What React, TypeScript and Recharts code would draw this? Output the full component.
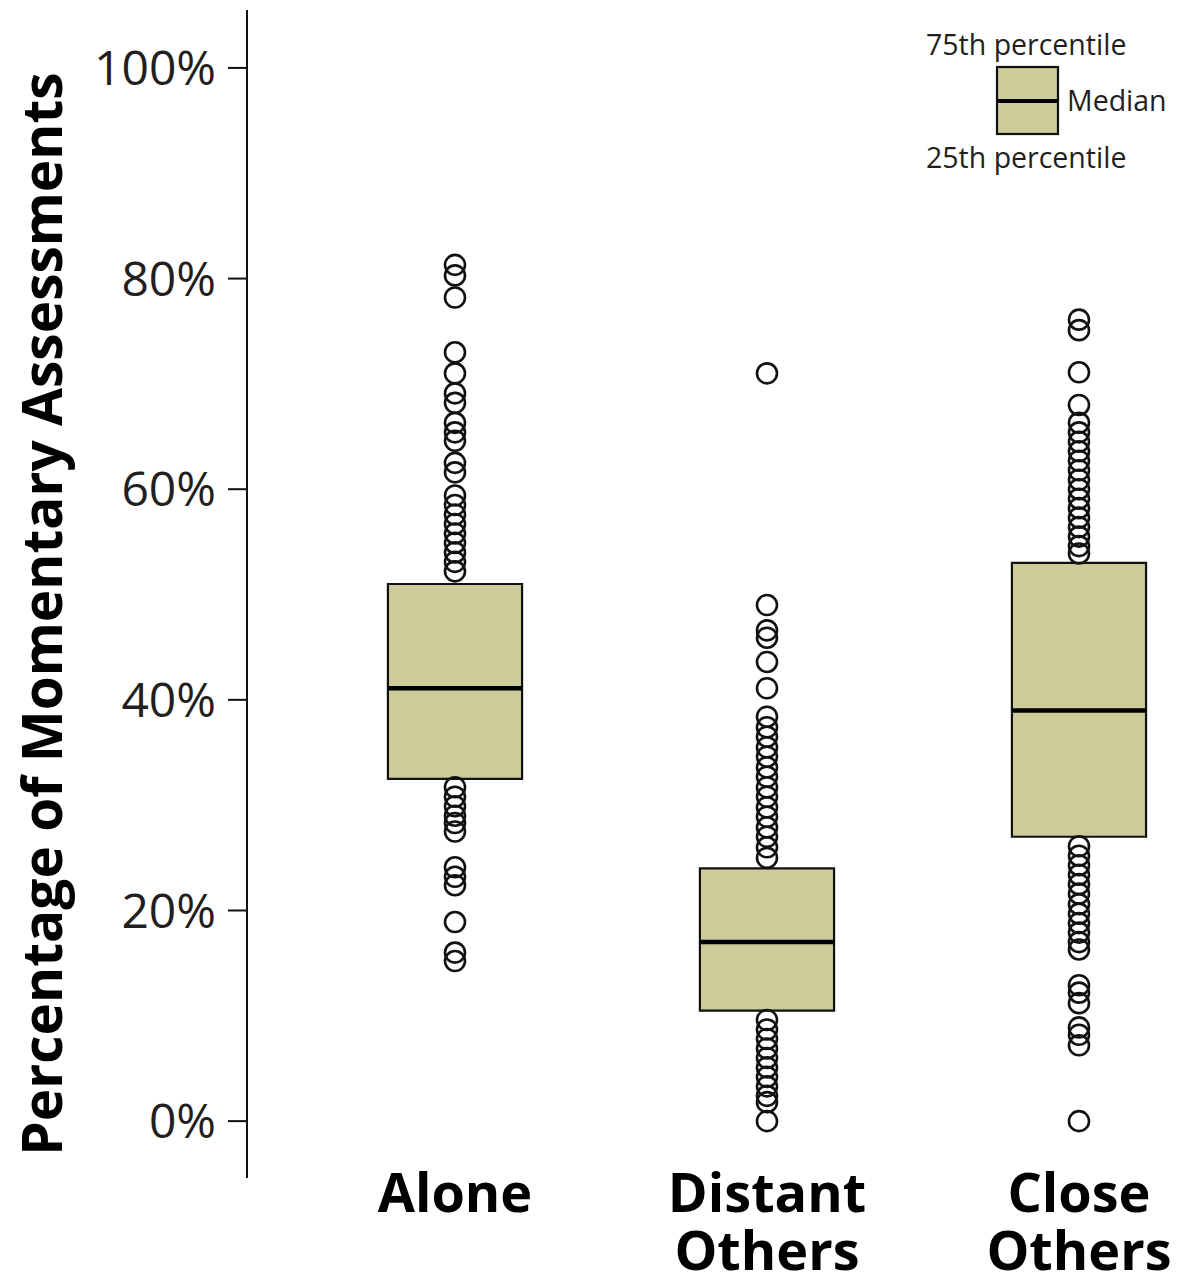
import React from "react";
import {
  ComposedChart,
  Scatter,
  XAxis,
  YAxis,
  ReferenceArea,
  ReferenceLine,
  Legend,
  Label,
} from "recharts";

// categories and box statistics (percent)
const categories = ["Alone", "Distant Others", "Close Others"];
const q1 = [32.5, 10.5, 27.0];
const medians = [41.1, 17.0, 39.0];
const q3 = [51.0, 24.0, 53.0];

// outliers
const aloneOutliers = [
  81.3, 80.3, 78.2, 73.0, 71.0, 69.1, 68.2, 66.3, 65.4, 64.6, 62.5, 61.6,
  59.4, 58.5, 57.6, 56.7, 55.8, 54.9, 54.0, 53.1, 52.2, 31.7, 30.8, 29.9,
  29.0, 28.3, 27.5, 24.1, 23.2, 22.4, 18.9, 16.0, 15.2,
];
const distantOutliers = [
  71.0, 49.0, 46.6, 45.9, 43.6, 41.1, 38.4, 37.4, 36.5, 35.5, 34.6, 33.6,
  32.7, 31.7, 30.8, 29.8, 28.9, 27.9, 27.0, 26.0, 25.0, 9.6, 8.7, 7.8, 6.9,
  6.0, 5.1, 4.2, 3.3, 2.4, 1.8, 0,
];
const closeOutliers = [
  76.1, 75.1, 71.1, 68.0, 66.3, 65.4, 64.5, 63.6, 62.7, 61.8, 60.9, 60.0,
  59.1, 58.2, 57.3, 56.4, 55.5, 54.6, 53.9, 26.1, 25.2, 24.3, 23.4, 22.5,
  21.6, 20.6, 19.7, 18.8, 17.9, 17.0, 16.3, 12.9, 12.2, 11.2, 8.9, 8.2, 7.2,
  0,
];
const yTicks = [0, 20, 40, 60, 80, 100];

const outlierSets = [aloneOutliers, distantOutliers, closeOutliers];
const HALF = 0.215;
const FONT = "'Open Sans', 'Noto Sans', sans-serif";
const BOX_FILL = "#cccb99";

const OpenCircle = (props: any) => (
  <circle
    cx={props.cx}
    cy={props.cy}
    r={10}
    fill="none"
    stroke="#111"
    strokeWidth={2.6}
  />
);

const CategoryTick = (props: any) => {
  const { x, y, payload } = props;
  const words = categories[payload.value].split(" ");
  return (
    <text
      x={x}
      y={y}
      textAnchor="middle"
      fontFamily={FONT}
      fontWeight={700}
      fontSize={54}
      fill="#000"
    >
      {words.map((w, i) => (
        <tspan key={w} x={x} y={y + 32 + i * 58}>
          {w}
        </tspan>
      ))}
    </text>
  );
};

const BoxLegend = () => (
  <div style={{ position: "relative", width: 0, height: 0 }}>
    <svg
      width={300}
      height={180}
      style={{ position: "absolute", left: 900, top: 0, overflow: "visible" }}
    >
      <g fontFamily={FONT} fontSize={28.5} fill="#231f20">
        <text x={26} y={55}>75th percentile</text>
        <text x={167} y={111}>Median</text>
        <text x={26} y={168}>25th percentile</text>
      </g>
      <rect x={97} y={67} width={61} height={67} fill={BOX_FILL} stroke="#111" strokeWidth={2.2} />
      <line x1={97} x2={158} y1={101} y2={101} stroke="#000" strokeWidth={4} />
    </svg>
  </div>
);

export default function App() {
  return (
    <div style={{ position: "absolute", left: 0, top: 0, background: "#fff" }}>
      <ComposedChart
        width={1186}
        height={1283}
        margin={{ top: 10, right: 0, bottom: 0, left: 0 }}
      >
        <XAxis
          type="number"
          dataKey="x"
          domain={[-2 / 3, 2.343]}
          ticks={[0, 1, 2]}
          allowDataOverflow
          axisLine={false}
          tickLine={false}
          tickSize={0}
          height={105}
          tick={<CategoryTick />}
          interval={0}
        />
        <YAxis
          type="number"
          dataKey="y"
          domain={[-5.4, 105.5]}
          ticks={yTicks}
          allowDataOverflow
          width={247}
          tickSize={19}
          tickMargin={12}
          tickFormatter={(v) => `${v}%`}
          axisLine={{ stroke: "#111", strokeWidth: 2 }}
          tickLine={{ stroke: "#111", strokeWidth: 2 }}
          tick={{ fontFamily: FONT, fontSize: 48, fill: "#231f20" }}
          interval={0}
        >
          <Label
            content={() => (
              <text
                x={62}
                y={614}
                transform="rotate(-90, 62, 614)"
                textAnchor="middle"
                fontFamily={FONT}
                fontWeight={700}
                fontSize={55}
                fill="#000"
              >
                Percentage of Momentary Assessments
              </text>
            )}
          />
        </YAxis>
        <Legend content={<BoxLegend />} wrapperStyle={{ top: 0, left: 0, width: 0, height: 0 }} />
        {categories.map((c, i) => (
          <Scatter
            key={c}
            name={c}
            data={outlierSets[i].map((v) => ({ x: i, y: v }))}
            shape={<OpenCircle />}
            isAnimationActive={false}
          />
        ))}
        {categories.map((c, i) => (
          <ReferenceArea
            key={`box-${c}`}
            x1={i - HALF}
            x2={i + HALF}
            y1={q1[i]}
            y2={q3[i]}
            fill={BOX_FILL}
            fillOpacity={1}
            stroke="#111"
            strokeWidth={2.2}
          />
        ))}
        {categories.map((c, i) => (
          <ReferenceLine
            key={`med-${c}`}
            segment={[
              { x: i - HALF, y: medians[i] },
              { x: i + HALF, y: medians[i] },
            ]}
            stroke="#000"
            strokeWidth={4.5}
          />
        ))}
      </ComposedChart>
    </div>
  );
}
